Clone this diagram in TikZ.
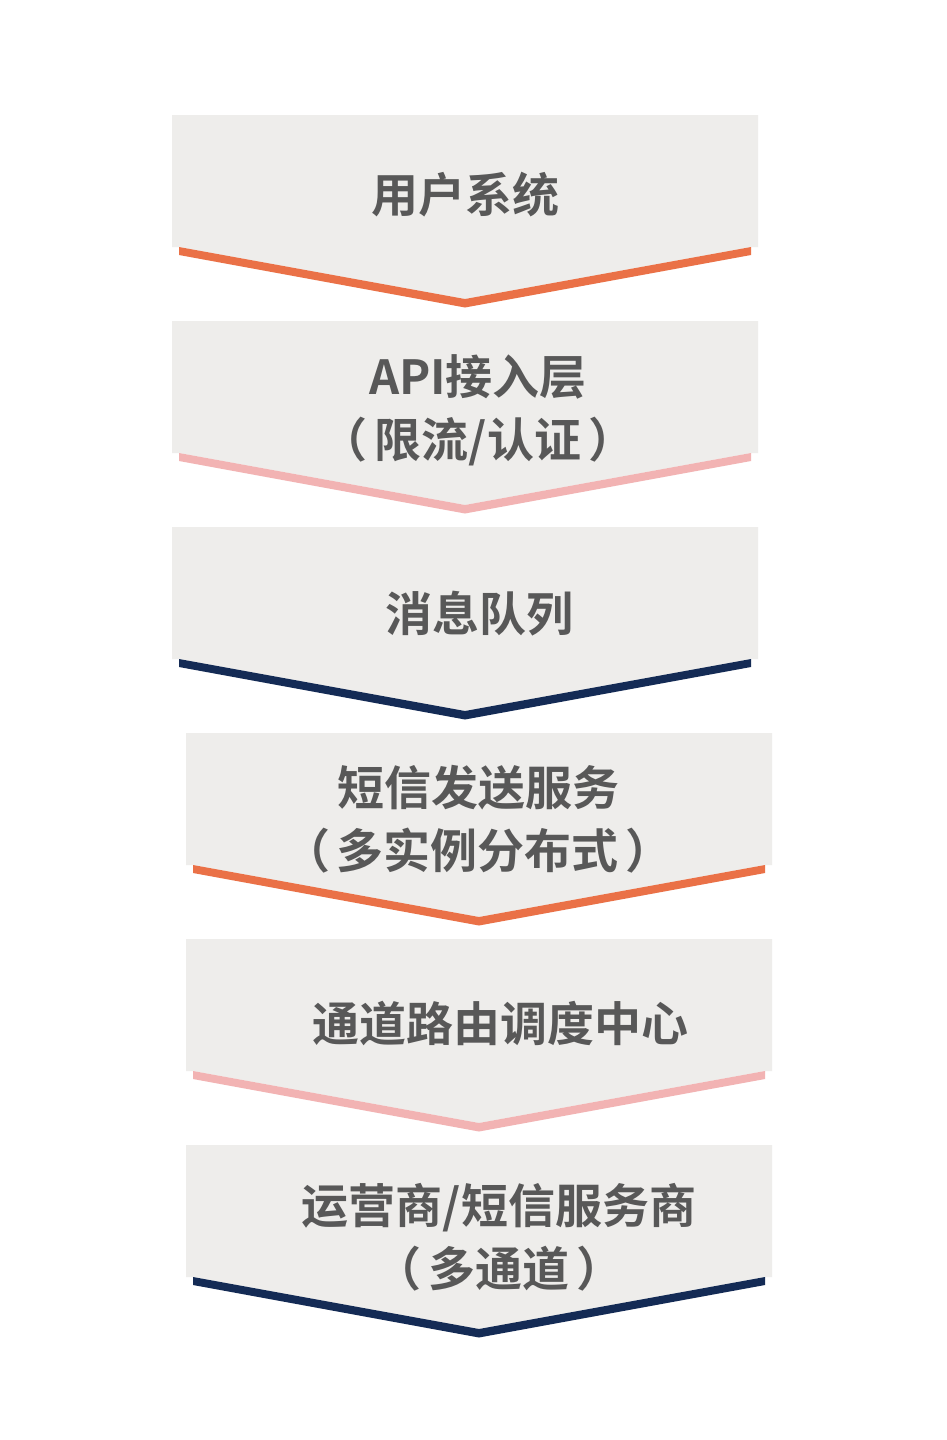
\documentclass[tikz,border=0pt]{standalone}
\usepackage{fontspec}
\newfontfamily\cjk{Noto Sans CJK SC}[BoldFont={Noto Sans CJK SC Bold}]
\definecolor{boxgrey}{HTML}{EEEDEB}
\definecolor{orangeline}{HTML}{EA7147}
\definecolor{pinkline}{HTML}{F2B3B3}
\definecolor{navyline}{HTML}{142B55}
\definecolor{txt}{HTML}{585858}
\tikzset{
  lbl/.style={font=\cjk\bfseries\fontsize{47pt}{63pt}\selectfont, text=txt, align=center, inner sep=0pt},
}
\newcommand{\lp}{（\kern7pt}
\newcommand{\rp}{\kern7pt）}
% #1 left, #2 right, #3 top, #4 rect bottom, #5 color
\newcommand{\chevbox}[5]{%
  \pgfmathsetmacro{\cx}{(#1+#2)/2}%
  \fill[boxgrey] (#1,#3) -- (#2,#3) -- (#2,#4) -- ({#2-7},#4) -- (\cx,{#4+52}) -- ({#1+7},#4) -- (#1,#4) -- cycle;
  \fill[#5] ({#1+7},#4) -- (\cx,{#4+52}) -- ({#2-7},#4) -- ({#2-7},{#4+8}) -- (\cx,{#4+60.5}) -- ({#1+7},{#4+8}) -- cycle;
}
\begin{document}
\begin{tikzpicture}[x=1pt,y=-1pt]
\useasboundingbox (0,0) rectangle (946,1440);
\fill[white] (0,0) rectangle (946,1440);
\chevbox{172}{758}{115}{247}{orangeline}
\chevbox{172}{758}{321}{453}{pinkline}
\chevbox{172}{758}{527}{659}{navyline}
\chevbox{186}{772}{733}{865}{orangeline}
\chevbox{186}{772}{939}{1071}{pinkline}
\chevbox{186}{772}{1145}{1277}{navyline}
\node[lbl] (t1) at (465,195) {用户系统};
\node[lbl] (t2) at (478,410) {API接入层\\\lp 限流/认证\rp};
\node[lbl] (t3) at (479,614) {消息队列};
\node[lbl] (t4) at (478,819) {短信发送服务\\\lp 多实例分布式\rp};
\node[lbl] (t5) at (500,1024) {通道路由调度中心};
\node[lbl] (t6) at (499,1237) {运营商/短信服务商\\\lp 多通道\rp};
\end{tikzpicture}
\end{document}
